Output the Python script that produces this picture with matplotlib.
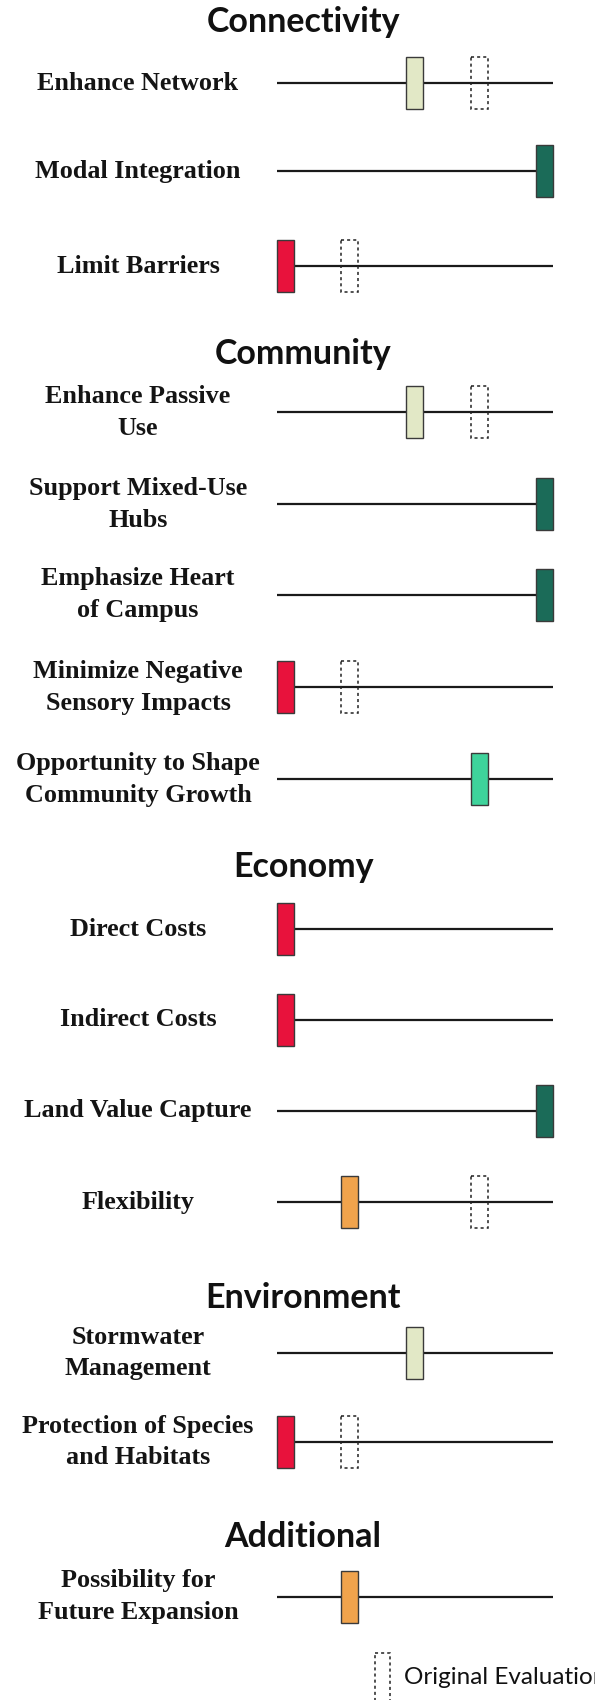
import matplotlib
matplotlib.use("Agg")
import matplotlib.pyplot as plt
from matplotlib.patches import Rectangle

"""
=================================================
Data
=================================================
"""
sections = ['Connectivity', 'Community', 'Economy', 'Environment', 'Additional']

# criteria per section (labels as wrapped in the original)
connectivity_labels = ['Enhance Network', 'Modal Integration', 'Limit Barriers']
community_labels = ['Enhance Passive\nUse', 'Support Mixed-Use\nHubs', 'Emphasize Heart\nof Campus',
                    'Minimize Negative\nSensory Impacts', 'Opportunity to Shape\nCommunity Growth']
economy_labels = ['Direct Costs', 'Indirect Costs', 'Land Value Capture', 'Flexibility']
environment_labels = ['Stormwater\nManagement', 'Protection of Species\nand Habitats']
additional_labels = ['Possibility for\nFuture Expansion']

# scores on a 0-4 scale, None = no original evaluation shown
connectivity_scores = [2, 4, 0]
connectivity_original = [3, None, 1]
community_scores = [2, 4, 4, 0, 3]
community_original = [3, None, None, 1, None]
economy_scores = [0, 0, 4, 1]
economy_original = [None, None, None, 3]
environment_scores = [2, 0]
environment_original = [None, 1]
additional_scores = [1]
additional_original = [None]

legend_label = 'Original Evaluation'

"""
=================================================
Layout / style
=================================================
"""
score_colors = ['#e8123c', '#f0a34c', '#e2e8c6', '#3ed39b', '#1b6b58']

# vertical layout in pixels (figure is 595 x 1700)
title_y = [22, 354, 867, 1298, 1537]
row_y = [[83, 171, 266],
         [412, 504, 595, 687, 779],
         [929, 1020, 1111, 1202],
         [1353, 1442],
         [1597]]

x0_px, unit_px = 285.1, 64.8   # pixel of score 0 and pixels per score step


def px(x):
    return (x - x0_px) / unit_px


box_w = 17 / unit_px
box_h = 52

label_font = ['Liberation Serif', 'DejaVu Serif']
title_font = ['Lato', 'DejaVu Sans']

fig = plt.figure(figsize=(5.95, 17), dpi=100)
ax = fig.add_axes([0, 0, 1, 1])
ax.set_xlim(px(0), px(595))
ax.set_ylim(1700, 0)
ax.axis('off')

all_labels = [connectivity_labels, community_labels, economy_labels, environment_labels, additional_labels]
all_scores = [connectivity_scores, community_scores, economy_scores, environment_scores, additional_scores]
all_original = [connectivity_original, community_original, economy_original,
                environment_original, additional_original]

for s, name in enumerate(sections):
    ax.text(px(303), title_y[s], name, ha='center', va='center', fontsize=24.5,
            fontweight='bold', family=title_font, color='#111111')
    for label, score, orig, y in zip(all_labels[s], all_scores[s], all_original[s], row_y[s]):
        ax.text(px(138), y, label, ha='center', va='center', fontsize=18.8,
                fontweight='bold', family=label_font, color='#141414', linespacing=1.5)
        # scale line
        ax.plot([0 - box_w / 2, 4 + box_w / 2], [y, y], color='#1a1a1a', lw=1.6,
                solid_capstyle='butt', zorder=1)
        # original evaluation (dashed)
        if orig is not None:
            ax.add_patch(Rectangle((orig - box_w / 2, y - box_h / 2), box_w, box_h, fill=False,
                                   edgecolor='#222222', lw=1.1, linestyle=(0, (2, 2)), zorder=2))
        # current evaluation
        ax.add_patch(Rectangle((score - box_w / 2, y - box_h / 2), box_w, box_h,
                               facecolor=score_colors[score], edgecolor='#3a3a3a', lw=1.0, zorder=3))

# legend at the bottom (runs off the page like the original)
ax.add_patch(Rectangle((px(375), 1653), box_w * 0.9, box_h, fill=False,
                       edgecolor='#222222', lw=1.1, linestyle=(0, (2, 2)), clip_on=False))
ax.text(px(404), 1677, legend_label, ha='left', va='center', fontsize=17.5,
        family=title_font, color='#111111')

fig.savefig('out.png', dpi=100)
